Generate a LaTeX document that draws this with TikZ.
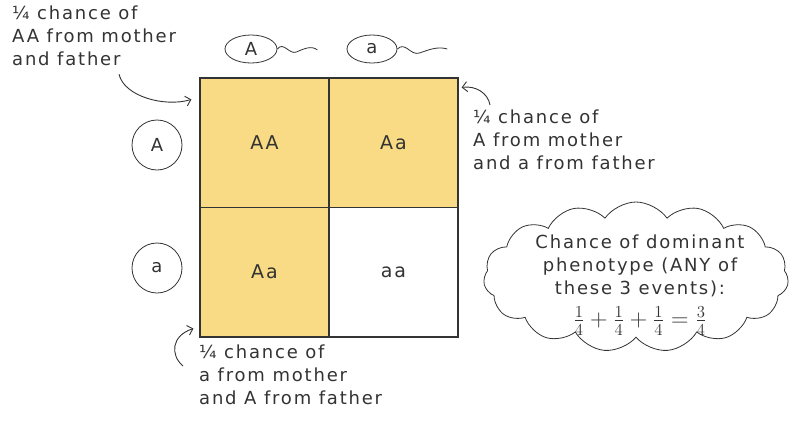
\documentclass[tikz,border=0pt]{standalone}
\usepackage{fontspec}
\usetikzlibrary{arrows.meta,positioning,shapes.geometric,shapes.symbols}
\newfontfamily\handfont[LetterSpace=10]{DejaVu Sans}
\definecolor{psyellow}{HTML}{F8DB84}
\definecolor{psink}{HTML}{333333}

\begin{document}
\begin{tikzpicture}[
  x=1pt, y=-1pt,
  note/.style={font=\handfont\fontsize{18}{23}\selectfont, text=psink, align=left, inner sep=0pt},
  cell/.style={draw=psink, line width=1.2pt, minimum width=129pt, minimum height=129.5pt,
               font=\handfont\fontsize{19}{23}\selectfont, text=psink},
  allele/.style={draw=psink, line width=0.8pt, font=\handfont\fontsize{18}{23}\selectfont, text=psink},
  arrow/.style={-{Straight Barb[length=5pt]}, psink, line width=0.9pt},
]
\useasboundingbox (0,0) rectangle (793,421);

%% ---- Punnett square ----
\node[cell, fill=psyellow] at (264.5,142.8) (cAA)  {AA};
\node[cell, fill=psyellow] at (393.5,142.8) (cAa1) {Aa};
\node[cell, fill=psyellow] at (264.5,272.2) (cAa2) {Aa};
\node[cell, fill=white]    at (393.5,272.2) (caa)  {aa};

%% ---- Alleles from the father (top) ----
\node[allele, ellipse, minimum width=52pt, minimum height=28pt, inner sep=0pt] at (251,49) (fA) {A};
\node[allele, ellipse, minimum width=50pt, minimum height=28pt, inner sep=0pt] at (372,49) (fa) {a};
\draw[psink, line width=0.8pt] (fA.east) .. controls +(6,-8) and +(-7,3) .. ++(19,3)
  .. controls +(7,-3) and +(-6,-5) .. ++(21,-2);
\draw[psink, line width=0.8pt] (fa.east) .. controls +(8,-8) and +(-9,3) .. ++(22,4)
  .. controls +(9,-3) and +(-10,-3) .. ++(28,-4);

%% ---- Alleles from the mother (left) ----
\node[allele, circle, minimum size=50pt, inner sep=0pt] at (157,145) (mA) {A};
\node[allele, circle, minimum size=50pt, inner sep=0pt] at (157,268) (ma) {a};

%% ---- Notes with arrows ----
\node[note, anchor=north west] at (12,6) (noteAA)
  {¼ chance of\\AA from mother\\and father};
\draw[arrow] ([shift={(25,8)}]noteAA.south) .. controls +(5,22) and +(-27,8) .. ([xshift=-8pt,yshift=-22pt]cAA.north west);

\node[note, anchor=north west] at (473,110) (noteAa)
  {¼ chance of\\A from mother\\and a from father};
\draw[arrow] ([shift={(17,-5)}]noteAa.north west) .. controls +(-2,-12) and +(14,-2) .. ([xshift=3pt,yshift=-10pt]cAa1.north east);

\node[note, anchor=north west] at (199,345) (noteaA)
  {¼ chance of\\a from mother\\and A from father};
\draw[arrow] ([shift={(-16,21)}]noteaA.north west) .. controls +(-13,-11) and +(-22,7) .. ([xshift=-6pt,yshift=9pt]cAa2.south west);

%% ---- Cloud with the sum ----
\node[cloud, draw=psink, line width=0.8pt, cloud puffs=15, cloud puff arc=110, aspect=2.1,
      minimum width=305pt, minimum height=150pt] at (636,277) (cloud) {};
\node[note, align=center] at (640,285) (sum)
  {Chance of dominant\\phenotype (ANY of\\these 3 events):\\[9pt]
   \scalebox{1.4}{$\frac{1}{4}+\frac{1}{4}+\frac{1}{4}=\frac{3}{4}$}};

\end{tikzpicture}
\end{document}
